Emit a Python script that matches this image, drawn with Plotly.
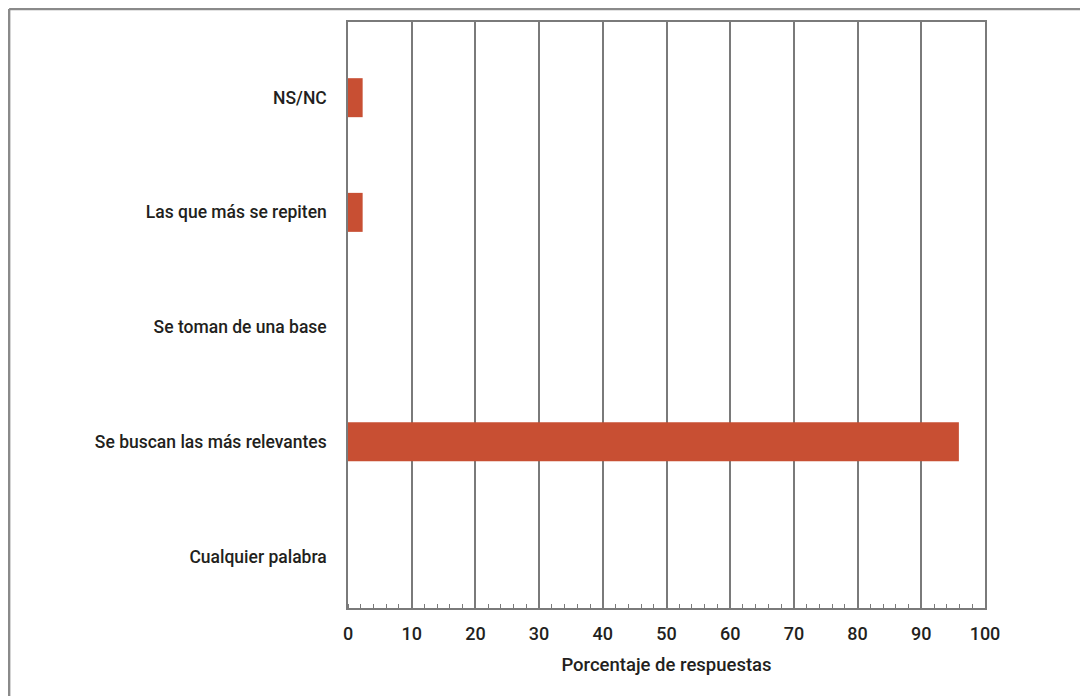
import plotly.graph_objects as go

categories = ["Cualquier palabra", "Se buscan las más relevantes", "Se toman de una base",
              "Las que más se repiten", "NS/NC"]
values = [0, 95.9, 0, 2.3, 2.3]
x_ticks = [0, 10, 20, 30, 40, 50, 60, 70, 80, 90, 100]
x_title = "Porcentaje de respuestas"

FONT = "Roboto, sans-serif"
TXT = "#231f20"
GRID = "#7a7a7a"

fig = go.Figure()
fig.add_trace(go.Bar(
    y=categories, x=values, orientation="h",
    marker=dict(color="#c84f33", line=dict(width=0)),
    width=0.34,
))

fig.update_layout(
    width=1088, height=696,
    margin=dict(l=340, r=111, t=14, b=96),
    paper_bgcolor="white", plot_bgcolor="white",
    showlegend=False,
    font=dict(family=FONT, size=18, color=TXT),
    xaxis=dict(
        range=[0, 100], tickvals=x_ticks, ticktext=[str(t) for t in x_ticks],
        showgrid=True, gridcolor=GRID, gridwidth=1.5,
        showline=True, linecolor=GRID, linewidth=1.5, mirror=True,
        ticks="", zeroline=False,
        ticklabelstandoff=9,
        minor=dict(dtick=2, ticks="inside", ticklen=4, tickcolor=GRID, tickwidth=1, showgrid=False),
        title=dict(text=x_title, font=dict(family=FONT, size=18.5, color=TXT, weight=500), standoff=15),
        tickfont=dict(family=FONT, size=18, color=TXT, weight=500),
    ),
    yaxis=dict(
        type="category", categoryorder="array", categoryarray=categories,
        range=[-0.45, 4.66],
        showgrid=False, showline=True, linecolor=GRID, linewidth=1.5, mirror=True,
        ticks="", zeroline=False,
        ticklabelstandoff=16,
        tickfont=dict(family=FONT, size=17.5, color=TXT, weight=500),
    ),
    shapes=[
        dict(type="line", xref="paper", yref="paper", x0=-0.532, x1=1.2, y0=1.0222, y1=1.0222,
             line=dict(color="#8a8a8a", width=2.5)),
        dict(type="line", xref="paper", yref="paper", x0=-0.532, x1=-0.532, y0=-0.2, y1=1.0222,
             line=dict(color="#8a8a8a", width=2.5)),
    ],
)

fig.write_html("out.html")
